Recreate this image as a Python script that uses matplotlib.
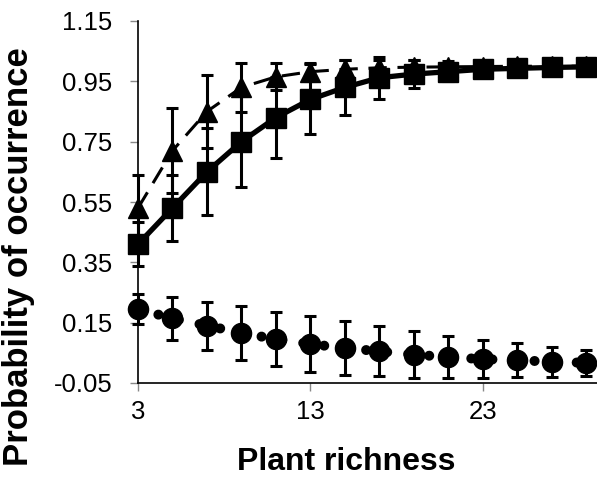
import matplotlib
matplotlib.use('Agg')
import matplotlib.pyplot as plt

# values
richness = [3, 5, 7, 9, 11, 13, 15, 17, 19, 21, 23, 25, 27, 29]

tri = [0.53, 0.72, 0.85, 0.93, 0.965, 0.982, 0.99, 0.995, 0.997, 0.998, 0.999, 1.0, 1.0, 1.0]
tri_err = [0.11, 0.14, 0.12, 0.08, 0.045, 0.03, 0.03, 0.025, 0.025, 0.02, 0.015, 0.01, 0.01, 0.01]

sq = [0.41, 0.53, 0.65, 0.75, 0.83, 0.89, 0.93, 0.962, 0.974, 0.982, 0.99, 0.993, 0.996, 0.998]
sq_err = [0.073, 0.11, 0.144, 0.15, 0.135, 0.116, 0.09, 0.07, 0.047, 0.03, 0.02, 0.015, 0.01, 0.01]

circ = [0.195, 0.164, 0.14, 0.116, 0.095, 0.079, 0.066, 0.055, 0.044, 0.036, 0.029, 0.026, 0.02, 0.017]
circ_err = [0.05, 0.07, 0.08, 0.09, 0.09, 0.093, 0.088, 0.083, 0.077, 0.07, 0.063, 0.055, 0.05, 0.044]

yticks = [-0.05, 0.15, 0.35, 0.55, 0.75, 0.95, 1.15]
xticks = [3, 13, 23]

plt.rcParams['font.family'] = ['Liberation Sans', 'DejaVu Sans']

W, H = 597, 479
fig = plt.figure(figsize=(W / 100, H / 100), dpi=100)
ax = fig.add_axes([138 / W, 1 - 383 / H, 1 - 138 / W, (383 - 21) / H])

eb = dict(fmt='none', ecolor='black', elinewidth=2.2, capsize=4.3, capthick=2.2, clip_on=False)

# circles: thick round-dotted line
ax.errorbar(richness, circ, yerr=circ_err, zorder=3, **eb)
ax.plot(richness, circ, color='black', linewidth=7.2, dashes=(0.01, 2.1),
        dash_capstyle='round', zorder=2, clip_on=False)
ax.plot(richness, circ, 'o', color='black', markersize=14.5, linestyle='none',
        zorder=4, clip_on=False)

# squares: thick solid line
ax.errorbar(richness, sq, yerr=sq_err, zorder=3, **eb)
ax.plot(richness, sq, color='black', linewidth=3.8, marker='s', markersize=14.5,
        zorder=4, clip_on=False)

# triangles: dashed line
ax.errorbar(richness, tri, yerr=tri_err, zorder=3, **eb)
ax.plot(richness, tri, color='black', linewidth=2.2, dashes=(6, 3.5), marker='^',
        markersize=14.5, zorder=4, clip_on=False)

ax.set_xlim(3, 29.62)
ax.set_ylim(-0.05, 1.15)
ax.set_xticks(xticks)
ax.set_yticks(yticks)
ax.set_yticklabels(['%.2f' % v for v in yticks])

for side in ['top', 'right']:
    ax.spines[side].set_visible(False)
for side in ['left', 'bottom']:
    ax.spines[side].set_linewidth(1.2)
    ax.spines[side].set_color('black')

ax.tick_params(direction='out', length=5.5, width=1, color='#888888', labelsize=18.5)
ax.tick_params(axis='y', pad=13)
ax.tick_params(axis='x', pad=7)

fig.text(346.5 / W, 1 - 470 / H, 'Plant richness', fontsize=23, fontweight='bold',
         ha='center', va='baseline')
fig.text(19 / W, 1 - 256.5 / H, 'Probability of occurrence', fontsize=25,
         fontweight='bold', rotation=90, ha='center', va='center')

fig.savefig('out.png', dpi=100)
